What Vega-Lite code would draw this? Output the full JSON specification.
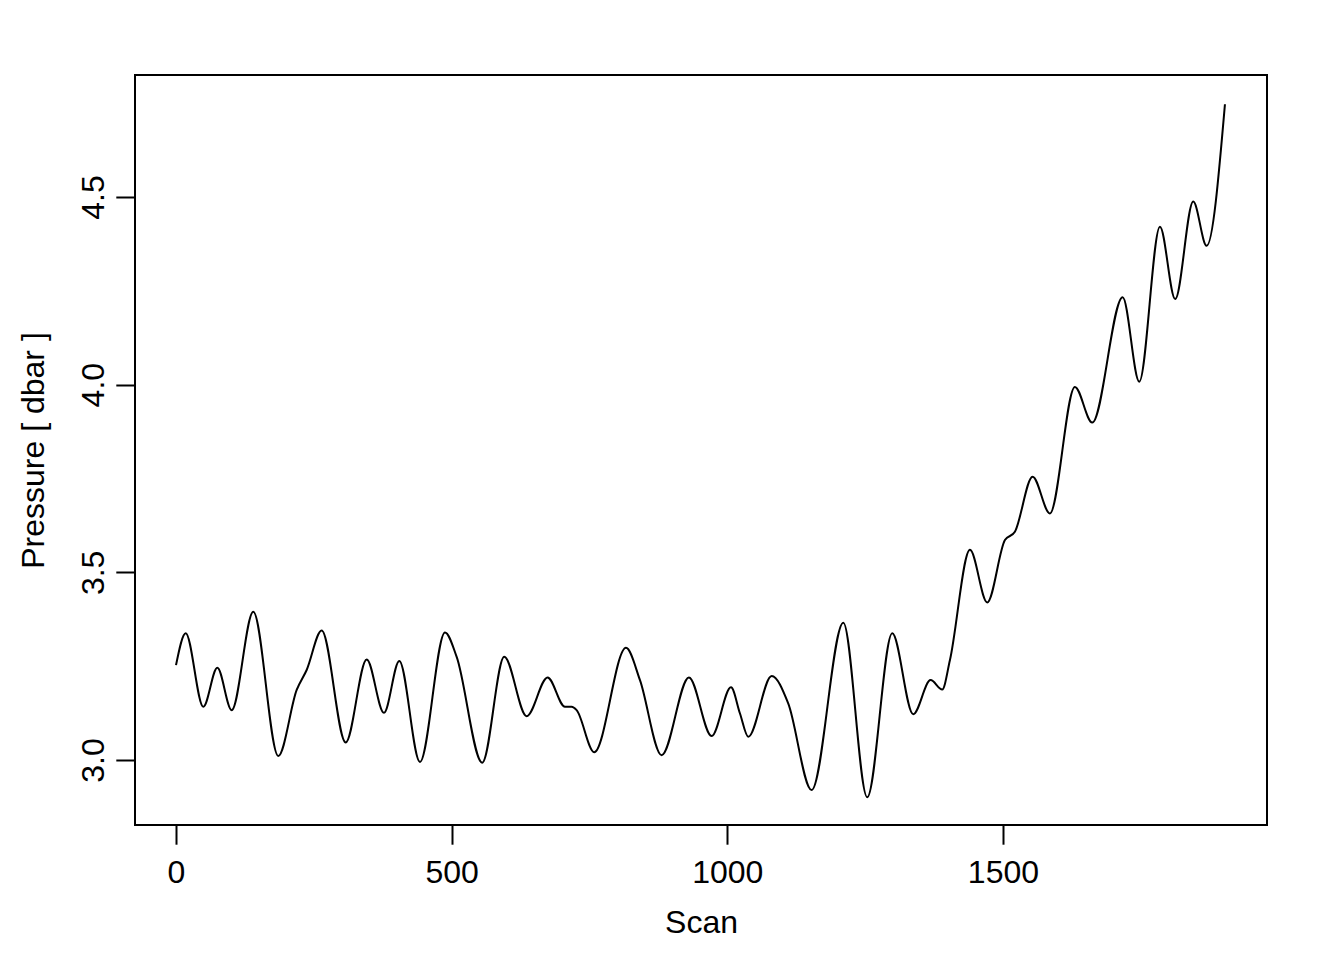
{
  "$schema": "https://vega.github.io/schema/vega-lite/v6.json",
  "width": 1132,
  "height": 750,
  "autosize": {"type": "none"},
  "padding": {"left": 135, "top": 75, "right": 77, "bottom": 135},
  "background": "white",
  "config": {
    "view": {"stroke": "black", "strokeWidth": 2},
    "font": "Liberation Sans",
    "axis": {
      "grid": false,
      "domain": false,
      "tickColor": "black",
      "tickWidth": 2,
      "tickSize": 19.2,
      "labelFont": "Liberation Sans",
      "labelFontSize": 32,
      "labelColor": "black",
      "titleFont": "Liberation Sans",
      "titleFontSize": 32,
      "titleFontWeight": "normal",
      "titleColor": "black"
    }
  },
  "data": {
    "values": [
      {"scan": 0, "pressure": 3.253},
      {"scan": 17.6, "pressure": 3.338},
      {"scan": 49.5, "pressure": 3.142},
      {"scan": 74.9, "pressure": 3.246},
      {"scan": 101.0, "pressure": 3.133},
      {"scan": 140.2, "pressure": 3.395},
      {"scan": 185.5, "pressure": 3.011},
      {"scan": 218.9, "pressure": 3.187},
      {"scan": 237.0, "pressure": 3.240},
      {"scan": 264.2, "pressure": 3.345},
      {"scan": 307.8, "pressure": 3.047},
      {"scan": 345.9, "pressure": 3.268},
      {"scan": 377.2, "pressure": 3.126},
      {"scan": 405.0, "pressure": 3.264},
      {"scan": 442.5, "pressure": 2.995},
      {"scan": 487.9, "pressure": 3.340},
      {"scan": 509.1, "pressure": 3.275},
      {"scan": 555.5, "pressure": 2.993},
      {"scan": 595.4, "pressure": 3.275},
      {"scan": 636.1, "pressure": 3.117},
      {"scan": 674.0, "pressure": 3.220},
      {"scan": 705.5, "pressure": 3.142},
      {"scan": 717.6, "pressure": 3.142},
      {"scan": 726.7, "pressure": 3.133},
      {"scan": 758.6, "pressure": 3.021},
      {"scan": 816.2, "pressure": 3.299},
      {"scan": 841.6, "pressure": 3.213},
      {"scan": 880.9, "pressure": 3.013},
      {"scan": 930.4, "pressure": 3.220},
      {"scan": 971.6, "pressure": 3.064},
      {"scan": 1006.7, "pressure": 3.194},
      {"scan": 1023.0, "pressure": 3.124},
      {"scan": 1038.0, "pressure": 3.062},
      {"scan": 1080.5, "pressure": 3.224},
      {"scan": 1110.5, "pressure": 3.151},
      {"scan": 1153.0, "pressure": 2.920},
      {"scan": 1210.4, "pressure": 3.366},
      {"scan": 1253.8, "pressure": 2.901},
      {"scan": 1299.2, "pressure": 3.338},
      {"scan": 1337.3, "pressure": 3.122},
      {"scan": 1368.8, "pressure": 3.213},
      {"scan": 1389.9, "pressure": 3.188},
      {"scan": 1403.8, "pressure": 3.266},
      {"scan": 1440.1, "pressure": 3.560},
      {"scan": 1471.5, "pressure": 3.420},
      {"scan": 1503.6, "pressure": 3.586},
      {"scan": 1521.7, "pressure": 3.608},
      {"scan": 1553.8, "pressure": 3.755},
      {"scan": 1585.2, "pressure": 3.657},
      {"scan": 1630.5, "pressure": 3.994},
      {"scan": 1662.0, "pressure": 3.899},
      {"scan": 1717.2, "pressure": 4.233},
      {"scan": 1747.3, "pressure": 4.008},
      {"scan": 1784.8, "pressure": 4.421},
      {"scan": 1812.5, "pressure": 4.228},
      {"scan": 1845.2, "pressure": 4.488},
      {"scan": 1869.5, "pressure": 4.370},
      {"scan": 1902.7, "pressure": 4.747}
    ]
  },
  "mark": {"type": "line", "color": "black", "strokeWidth": 2, "interpolate": "monotone"},
  "encoding": {
    "x": {
      "field": "scan",
      "type": "quantitative",
      "scale": {"domain": [-74.4, 1979], "nice": false, "zero": false},
      "axis": {
        "title": "Scan",
        "values": [0, 500, 1000, 1500],
        "format": "d",
        "labelBaseline": "alphabetic",
        "labelPadding": 38,
        "titleBaseline": "alphabetic",
        "titleY": 107,
        "titleX": 566
      }
    },
    "y": {
      "field": "pressure",
      "type": "quantitative",
      "scale": {"domain": [2.827, 4.825], "nice": false, "zero": false},
      "axis": {
        "title": "Pressure [ dbar ]",
        "values": [3.0, 3.5, 4.0, 4.5],
        "format": ".1f",
        "labelAngle": -90,
        "labelAlign": "center",
        "labelBaseline": "alphabetic",
        "labelPadding": 12,
        "titleAngle": -90,
        "titleAlign": "center",
        "titleBaseline": "alphabetic",
        "titleX": -92,
        "titleY": 375
      }
    }
  }
}
